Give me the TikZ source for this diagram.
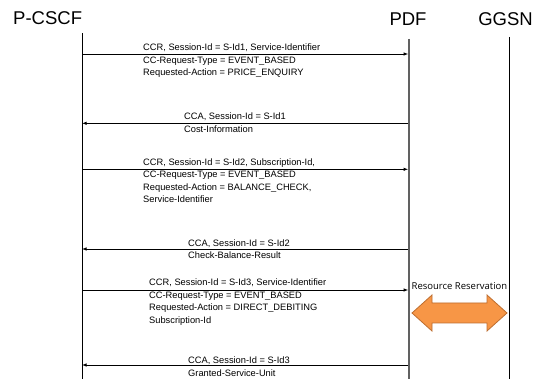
\documentclass[tikz,border=0pt]{standalone}
\usepackage{fontspec}
\setmainfont{Liberation Sans}
\newfontfamily\notefont{Open Sans}
\usetikzlibrary{arrows.meta}

\definecolor{resfill}{RGB}{247,150,70}
\definecolor{resedge}{RGB}{190,110,48}

\begin{document}
\begin{tikzpicture}[x=1pt,y=-1pt,
  head/.style={font=\fontsize{18.5}{18.5}\selectfont, inner sep=0},
  life/.style={line width=1pt, black},
  pdflife/.style={line width=1.6pt, black!62},
  msg/.style={line width=0.8pt, -{Latex[length=4.5pt,width=3.4pt]}},
  msgtext/.style={font=\fontsize{9.3}{12.4}\selectfont, anchor=base west, inner sep=0},
]
\useasboundingbox[fill=white] (0,0) rectangle (542,379);

% entity headers
\node[head, anchor=base west] (pcscf) at (13,25) {P-CSCF};
\node[head, anchor=base] (pdf)   at (408,26) {PDF};
\node[head, anchor=base] (ggsn)  at (505.5,26) {GGSN};

% lifelines
\coordinate (pT) at (82,33.5);  \coordinate (pB) at (82,379);
\coordinate (dT) at (409,39);   \coordinate (dB) at (409,379);
\coordinate (gT) at (509,37);   \coordinate (gB) at (509,379);
\draw[life] (pT) -- (pB);
\draw[pdflife] (dT) -- (dB);
\draw[life] (gT) -- (gB);

% message end points on the lifelines
\foreach \n/\y in {1/54, 2/123.3, 3/169.3, 4/249, 5/290, 6/365} {
  \coordinate (p\n) at (82,\y);
  \coordinate (d\n) at (408.2,\y);
}

% messages
\draw[msg] (p1) -- (d1);
\node[msgtext] (t1) at (143,51) {\vtop{%
  \hbox{CCR, Session-Id = S-Id1, Service-Identifier}
  \hbox{CC-Request-Type = EVENT\_BASED}
  \hbox{Requested-Action = PRICE\_ENQUIRY}}};

\draw[msg] (d2) -- (p2);
\node[msgtext] (t2) at (184,120) {\vtop{%
  \hbox{CCA, Session-Id = S-Id1}
  \hbox{Cost-Information}}};

\draw[msg] (p3) -- (d3);
\node[msgtext] (t3) at (143,165.5) {\vtop{%
  \hbox{CCR, Session-Id = S-Id2, Subscription-Id,}
  \hbox{CC-Request-Type = EVENT\_BASED}
  \hbox{Requested-Action = BALANCE\_CHECK,}
  \hbox{Service-Identifier}}};

\draw[msg] (d4) -- (p4);
\node[msgtext] (t4) at (188,246.5) {\vtop{%
  \hbox{CCA, Session-Id = S-Id2}
  \hbox{Check-Balance-Result}}};

\draw[msg] (p5) -- (d5);
\node[msgtext] (t5) at (149,286) {\vtop{%
  \hbox{CCR, Session-Id = S-Id3, Service-Identifier}
  \hbox{CC-Request-Type = EVENT\_BASED}
  \hbox{Requested-Action = DIRECT\_DEBITING}
  \hbox{Subscription-Id}}};

\draw[msg] (d6) -- (p6);
\node[msgtext] (t6) at (188,364) {\vtop{%
  \hbox{CCA, Session-Id = S-Id3}
  \hbox{Granted-Service-Unit}}};

% resource reservation between PDF and GGSN
\node[font=\notefont\fontsize{9.5}{9.5}\selectfont, anchor=base, inner sep=0] (rr) at (459.5,289.5) {Resource Reservation};
\draw[fill=resfill, draw=resedge, line width=0.8pt, line join=miter]
  (412,313) -- (432,295) -- (432,303) -- (487,303) -- (487,295) -- (507,313)
  -- (487,331) -- (487,323) -- (432,323) -- (432,331) -- cycle;
\end{tikzpicture}
\end{document}
